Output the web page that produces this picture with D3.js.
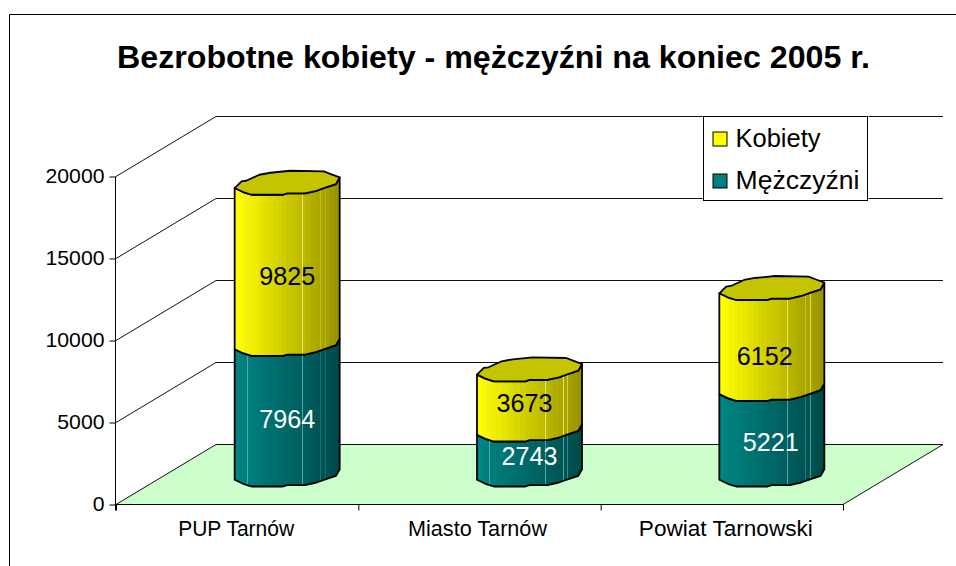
<!DOCTYPE html>
<html lang="pl">
<head>
<meta charset="utf-8">
<title>Bezrobotne kobiety - mężczyźni</title>
<script src="https://d3js.org/d3.v7.min.js"></script>
<style>
  html, body { margin: 0; background: #fff; }
  svg { display: block; }
  text { font-family: "Liberation Sans", Arial, sans-serif; fill: #000; }
</style>
</head>
<body>
<svg id="chart" width="956" height="566"></svg>
<script>
const categories = ["PUP Tarnów", "Miasto Tarnów", "Powiat Tarnowski"];
const mezczyzni = [7964, 2743, 5221];
const kobiety = [9825, 3673, 6152];
const yTicks = [0, 5000, 10000, 15000, 20000];
const legendLabels = ["Kobiety", "Mężczyźni"];

// chart box
const plotLeft = 116, plotRight = 843, plotBottom = 504.5, plotTop = 176.5;
const depthX = 100, depthY = 60;
const bodyRadius = 52.5;

const svg = d3.select("#chart");

const x = d3.scaleBand().domain(categories).range([plotLeft, plotRight]);
const y = d3.scaleLinear().domain([0, 20000]).range([plotBottom, plotTop]);

// outline of the cylinder's end (u = share of radius, v = px)
const ring = [
  [-1, 5.3], [-0.87, -1.3], [-0.78, -2], [-0.53, -8], [-0.32, -10], [0.06, -12],
  [0.7, -11.3], [0.83, -8.7], [1, -5.3], [0.93, 1.3], [0.74, 4.7], [0.56, 8],
  [0.34, 10.7], [0, 10.7], [-0.08, 12], [-0.68, 12], [-0.84, 9.3],
];
const frontEdge = [0, 16, 15, 14, 13, 12, 11, 10, 9, 8].map((i) => ring[i]);

const centerX = (cat) => x(cat) + x.bandwidth() / 2 + depthX / 2;
const centerY = (v) => y(v) - depthY / 2;
const ringPoints = (cx, cy, pts) =>
  pts.map(([u, v]) => [cx + u * bodyRadius, cy + v]);

const openLine = d3.line();
const closedLine = d3.line().curve(d3.curveLinearClosed);

// Frame
svg.append("path")
  .attr("d", "M9.5,566V14.5H956")
  .attr("fill", "none")
  .attr("stroke", "#000");

// Title
svg.append("text")
  .attr("x", 493.5)
  .attr("y", 68)
  .attr("text-anchor", "middle")
  .attr("font-size", 31)
  .attr("font-weight", "bold")
  .attr("textLength", 753)
  .attr("lengthAdjust", "spacingAndGlyphs")
  .text("Bezrobotne kobiety - mężczyźni na koniec 2005 r.");

// Floor
svg.append("path")
  .attr("d", closedLine([
    [plotLeft, y(0)],
    [plotLeft + depthX, y(0) - depthY],
    [plotRight + depthX, y(0) - depthY],
    [plotRight, y(0)],
  ]))
  .attr("fill", "#ccffcc")
  .attr("stroke", "none");

// Gridlines: side wall diagonal, then along the back
yTicks.forEach((t) => {
  svg.append("path")
    .attr("d", openLine([
      [plotLeft, y(t)],
      [plotLeft + depthX, y(t) - depthY],
      [plotRight + depthX, y(t) - depthY],
    ]))
    .attr("fill", "none")
    .attr("stroke", "#111");
});

// Floor right edge
svg.append("path")
  .attr("d", openLine([[plotRight + depthX, y(0) - depthY], [plotRight, y(0)]]))
  .attr("fill", "none")
  .attr("stroke", "#111");

// Y axis
const yAxis = svg.append("g")
  .attr("transform", `translate(${plotLeft - 0.5},0)`)
  .call(d3.axisLeft(y).tickValues(yTicks).tickSize(6).tickPadding(5).tickFormat(d3.format("d")));
yAxis.attr("font-family", null).attr("font-size", null);
yAxis.select(".domain").attr("d", `M0,${plotTop}V${plotBottom + 6}`).attr("stroke", "#000");
yAxis.selectAll("text")
  .attr("font-size", 21)
  .attr("y", -2)
  .attr("dy", "0.36em")
  .attr("textLength", (d) => String(d).length * 11.8)
  .attr("lengthAdjust", "spacingAndGlyphs");

// X axis: ticks sit between the bands
const xAxis = svg.append("g").attr("transform", `translate(0,${plotBottom})`);
xAxis.append("line")
  .attr("x1", plotLeft).attr("x2", plotRight)
  .attr("stroke", "#000");
xAxis.selectAll(".edge")
  .data(d3.range(categories.length + 1))
  .enter()
  .append("line")
  .attr("class", "edge")
  .attr("x1", (i) => plotLeft + i * x.step() + 0.5)
  .attr("x2", (i) => plotLeft + i * x.step() + 0.5)
  .attr("y2", 6)
  .attr("stroke", "#000");
const xLabelWidths = [116, 139, 174];
const xLabelShift = [-1, -2, 4];
xAxis.selectAll(".cat")
  .data(categories)
  .enter()
  .append("text")
  .attr("class", "cat")
  .attr("x", (d, i) => x(d) + x.bandwidth() / 2 + xLabelShift[i])
  .attr("y", 31)
  .attr("text-anchor", "middle")
  .attr("font-size", 22)
  .attr("textLength", (d, i) => xLabelWidths[i])
  .attr("lengthAdjust", "spacingAndGlyphs")
  .text((d) => d);

// Stepped side shading with the thin light seams of the original
const defs = svg.append("defs");
const seams = [0.12, 0.65, 0.82, 0.865];
const addShade = (id, from, to, seamColor) => {
  const steps = 22;
  const color = d3.interpolateRgb(from, to);
  const stops = [];
  d3.range(steps).forEach((i) => {
    stops.push([i / steps, color(i / (steps - 1))]);
    stops.push([(i + 1) / steps, color(i / (steps - 1))]);
  });
  seams.forEach((s) => {
    const c = color(s);
    stops.push([s - 0.004, c], [s - 0.004, seamColor], [s + 0.004, seamColor], [s + 0.004, c]);
  });
  // keep seam stops in order among the steps
  const sorted = stops
    .map((s, i) => ({ s, i }))
    .sort((a, b) => a.s[0] - b.s[0] || a.i - b.i)
    .map((d) => d.s);
  defs.append("linearGradient")
    .attr("id", id)
    .selectAll("stop")
    .data(sorted)
    .enter()
    .append("stop")
    .attr("offset", (d) => d[0])
    .attr("stop-color", (d) => d[1]);
};
addShade("shadeYellow", "#ffff00", "#999400", "#e8e860");
addShade("shadeTeal", "#008484", "#004a4a", "#4fa8a8");

// One cylinder segment from value a to value b
const drawSegment = (g, cat, a, b, fill) => {
  const cx = centerX(cat);
  const lower = ringPoints(cx, centerY(a), frontEdge);
  const upper = ringPoints(cx, centerY(b), frontEdge).reverse();
  g.append("path")
    .attr("d", closedLine(lower.concat(upper)))
    .attr("fill", fill)
    .attr("stroke", "#000")
    .attr("stroke-width", 1.8)
    .attr("stroke-linejoin", "round");
};

const labelNudgeX = [[0, 0], [0, -5], [-1, -7]];
const labelNudgeY = [[9, 12.5], [4, 3.5], [10, 17.5]];

categories.forEach((cat, i) => {
  const g = svg.append("g");
  const total = mezczyzni[i] + kobiety[i];
  drawSegment(g, cat, 0, mezczyzni[i], "url(#shadeTeal)");
  drawSegment(g, cat, mezczyzni[i], total, "url(#shadeYellow)");

  g.append("path")
    .attr("d", closedLine(ringPoints(centerX(cat), centerY(total), ring)))
    .attr("fill", "#c4c400")
    .attr("stroke", "#000")
    .attr("stroke-width", 1.8)
    .attr("stroke-linejoin", "round");

  // value labels
  g.append("text")
    .attr("x", centerX(cat) + labelNudgeX[i][0])
    .attr("y", centerY(mezczyzni[i] / 2) + labelNudgeY[i][0])
    .attr("dy", "0.36em")
    .attr("text-anchor", "middle")
    .attr("font-size", 26)
    .attr("textLength", 56)
    .attr("lengthAdjust", "spacingAndGlyphs")
    .style("fill", "#fff")
    .text(mezczyzni[i]);
  g.append("text")
    .attr("x", centerX(cat) + labelNudgeX[i][1])
    .attr("y", centerY(mezczyzni[i] + kobiety[i] / 2) + labelNudgeY[i][1])
    .attr("dy", "0.36em")
    .attr("text-anchor", "middle")
    .attr("font-size", 26)
    .attr("textLength", 56)
    .attr("lengthAdjust", "spacingAndGlyphs")
    .text(kobiety[i]);
});

// Legend
const legend = svg.append("g").attr("transform", "translate(703.5,116.5)");
legend.append("rect")
  .attr("x", -1).attr("y", -1)
  .attr("width", 166).attr("height", 86)
  .attr("fill", "#fff");
legend.append("rect")
  .attr("width", 164).attr("height", 84)
  .attr("fill", "#fff")
  .attr("stroke", "#000");
const legendColors = ["#ffff00", "#008080"];
legendLabels.forEach((name, i) => {
  legend.append("rect")
    .attr("x", 9.5).attr("y", 15.5 + i * 42)
    .attr("width", 14).attr("height", 14)
    .attr("fill", legendColors[i])
    .attr("stroke", "#000");
  legend.append("text")
    .attr("x", 32).attr("y", 30 + i * 42)
    .attr("font-size", 26)
    .attr("textLength", i === 0 ? 85 : 124)
    .attr("lengthAdjust", "spacingAndGlyphs")
    .text(name);
});
</script>
</body>
</html>
